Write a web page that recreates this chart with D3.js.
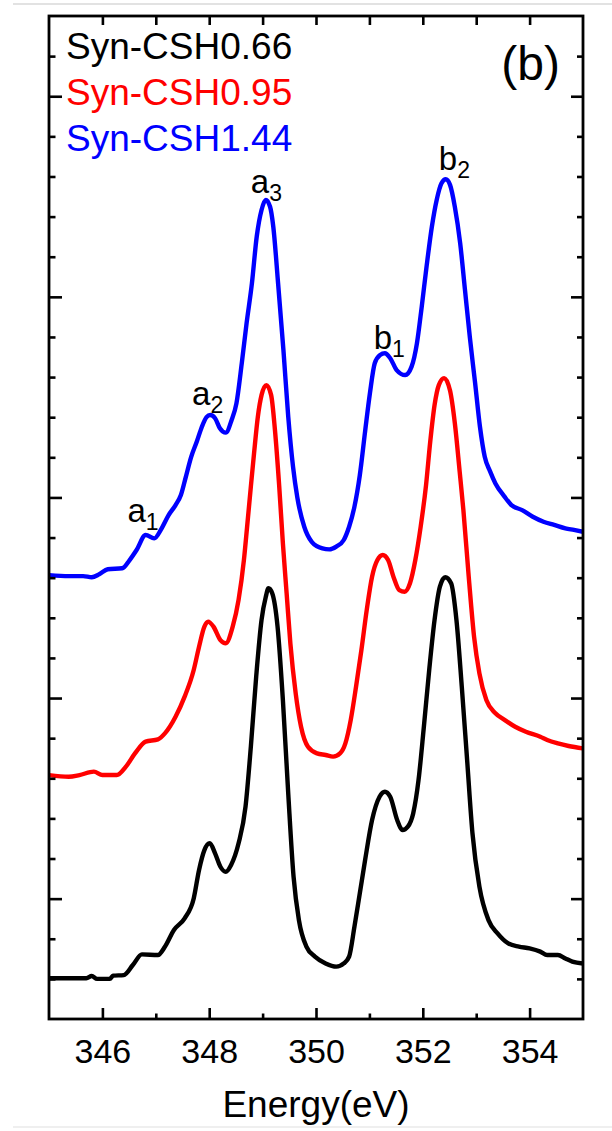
<!DOCTYPE html>
<html>
<head>
<meta charset="utf-8">
<script src="https://cdn.jsdelivr.net/npm/d3@7"></script>
<style>
  html, body { margin: 0; padding: 0; background: #fff; }
  svg { display: block; }
  text { font-family: "Liberation Sans", Arial, sans-serif; }
</style>
</head>
<body>
<svg id="chart" width="612" height="1131"></svg>
<script>
// Spectra: [energy (eV), normalised intensity]
const csh066 = [[345.00,0.03],[345.37,0.03],[345.70,0.03],[345.80,0.14],[345.90,0.0],[346.14,0.0],[346.20,0.16],[346.40,0.19],[346.57,0.69],[346.74,1.22],[347.04,1.19],[347.17,1.60],[347.34,2.44],[347.54,3.02],[347.71,4.01],[347.81,5.43],[347.91,6.42],[348.01,6.76],[348.11,6.26],[348.21,5.59],[348.31,5.34],[348.41,5.68],[348.55,6.76],[348.68,8.58],[348.78,11.58],[348.88,15.07],[348.98,17.89],[349.06,19.05],[349.11,19.47],[349.18,19.22],[349.28,17.56],[349.38,13.90],[349.48,9.25],[349.58,5.09],[349.68,2.93],[349.82,1.61],[349.98,1.11],[350.18,0.77],[350.38,0.61],[350.52,0.77],[350.62,1.11],[350.72,2.60],[350.82,4.26],[350.92,5.93],[351.05,7.92],[351.19,9.08],[351.29,9.33],[351.39,9.08],[351.52,7.92],[351.62,7.42],[351.72,7.59],[351.82,8.25],[351.92,9.91],[352.02,12.57],[352.12,15.40],[352.22,17.89],[352.32,19.55],[352.42,20.02],[352.53,19.72],[352.63,17.89],[352.73,14.57],[352.83,10.91],[352.93,7.26],[353.06,4.60],[353.23,2.93],[353.40,2.27],[353.60,1.77],[353.80,1.61],[354.00,1.52],[354.20,1.36],[354.33,1.19],[354.53,1.19],[354.67,1.02],[354.80,0.86],[355.00,0.77]];

const csh095 = [[345.00,0.16],[345.37,0.08],[345.57,0.16],[345.84,0.33],[346.00,0.16],[346.27,0.16],[346.44,0.58],[346.61,1.24],[346.81,1.83],[347.04,1.94],[347.17,2.24],[347.37,3.07],[347.54,4.07],[347.71,5.40],[347.81,6.56],[347.91,7.56],[347.98,7.81],[348.08,7.56],[348.21,6.89],[348.31,6.73],[348.44,7.56],[348.55,8.89],[348.65,10.88],[348.71,12.54],[348.78,14.54],[348.84,16.2],[348.91,18.0],[348.98,19.1],[349.07,19.6],[349.16,19.1],[349.23,17.4],[349.31,14.6],[349.38,11.71],[349.45,9.22],[349.52,6.72],[349.62,4.23],[349.72,2.57],[349.85,1.57],[350.02,1.24],[350.18,1.16],[350.32,1.08],[350.45,1.24],[350.55,1.74],[350.65,2.90],[350.75,4.57],[350.85,6.39],[350.95,8.39],[351.05,10.05],[351.15,10.88],[351.25,11.13],[351.35,10.88],[351.45,10.05],[351.56,9.38],[351.66,9.30],[351.76,9.72],[351.86,10.88],[351.96,12.54],[352.06,14.6],[352.14,16.8],[352.22,18.6],[352.30,19.6],[352.40,19.95],[352.51,19.33],[352.60,17.7],[352.69,15.3],[352.76,13.37],[352.86,10.05],[352.96,7.06],[353.06,5.23],[353.19,3.90],[353.36,3.24],[353.53,2.91],[353.73,2.57],[353.93,2.32],[354.20,2.07],[354.33,1.91],[354.53,1.74],[354.73,1.61],[355.00,1.49]];

const csh144 = [[345.00,0.13],[345.37,0.08],[345.64,0.08],[345.80,0.02],[345.94,0.17],[346.10,0.42],[346.37,0.47],[346.51,0.88],[346.64,1.38],[346.81,2.13],[346.97,1.96],[347.11,2.46],[347.24,3.12],[347.37,3.62],[347.47,4.12],[347.56,5.0],[347.66,6.0],[347.77,6.8],[347.86,7.5],[347.95,8.0],[348.02,8.11],[348.11,7.95],[348.20,7.45],[348.31,7.23],[348.42,7.86],[348.51,8.69],[348.61,10.69],[348.70,12.68],[348.80,14.68],[348.89,17.0],[348.98,18.33],[349.06,18.83],[349.14,18.49],[349.20,17.5],[349.29,14.68],[349.39,11.35],[349.48,8.03],[349.57,5.53],[349.65,4.00],[349.78,2.54],[349.92,1.79],[350.12,1.46],[350.25,1.41],[350.38,1.55],[350.52,1.88],[350.62,2.54],[350.72,3.54],[350.82,5.1],[350.92,7.3],[351.01,9.2],[351.10,10.69],[351.20,11.1],[351.29,11.19],[351.39,10.94],[351.51,10.35],[351.67,10.1],[351.79,10.52],[351.89,11.68],[351.98,13.51],[352.07,15.5],[352.17,17.5],[352.26,18.83],[352.35,19.66],[352.43,19.86],[352.51,19.58],[352.60,18.49],[352.70,16.67],[352.79,14.34],[352.88,12.01],[352.98,9.69],[353.07,7.53],[353.16,6.03],[353.26,5.3],[353.36,4.7],[353.53,4.04],[353.66,3.62],[353.86,3.37],[354.06,3.04],[354.26,2.79],[354.46,2.63],[354.67,2.46],[354.83,2.38],[355.00,2.29]];

const seriesNames = ["Syn-CSH0.66", "Syn-CSH0.95", "Syn-CSH1.44"];
const seriesColors = ["#000000", "#ff0000", "#0000ff"];
const seriesOffsets = [-4, 6, 16];   // vertical stacking of the spectra

// Peak labels: [letter, subscript, energy, stacked intensity at the baseline of the text]
const peakLabels = [
  ["a", "1", 346.47, 18.8],
  ["a", "2", 347.68, 24.6],
  ["a", "3", 348.78, 35.2],
  ["b", "1", 351.08, 27.4],
  ["b", "2", 352.30, 36.3]
];

const xMajorTicks = [346, 348, 350, 352, 354];
const xMinorTicks = [347, 349, 351, 353];
const xTopTicks = [346, 347, 348, 349, 350, 351, 352, 353, 354];
const yMajorTicks = [0, 10, 20, 30, 40];
const yMinorTicks = [-4, -2, 2, 4, 6, 8, 12, 14, 16, 18, 22, 24, 26, 28, 32, 34, 36, 38, 42];

const svg = d3.select("#chart");
const L = 49, R = 583, T = 16, B = 1019;

const x = d3.scaleLinear().domain([345, 355]).range([L, R]);
const y = d3.scaleLinear().domain([-6, 44]).range([B, T]);

// faint page rules
svg.append("line").attr("x1", 13).attr("x2", 612).attr("y1", 4).attr("y2", 4)
  .attr("stroke", "#e2e2e2").attr("stroke-width", 2);
svg.append("line").attr("x1", 13).attr("x2", 612).attr("y1", 1127).attr("y2", 1127)
  .attr("stroke", "#efefef").attr("stroke-width", 2);

svg.append("clipPath").attr("id", "plot-clip")
  .append("rect").attr("x", L).attr("y", T).attr("width", R - L).attr("height", B - T);

const line = d3.line()
  .x(d => x(d[0]))
  .y(d => y(d[1]))
  .curve(d3.curveMonotoneX);

const curves = svg.append("g").attr("clip-path", "url(#plot-clip)");
[csh066, csh095, csh144].forEach((s, i) => {
  curves.append("path")
    .datum(s.map(d => [d[0], d[1] + seriesOffsets[i]]))
    .attr("d", line)
    .attr("fill", "none")
    .attr("stroke", seriesColors[i])
    .attr("stroke-width", 4.4)
    .attr("stroke-linejoin", "round")
    .attr("stroke-linecap", "round");
});

function styleAxis(g) {
  g.select(".domain").remove();
  g.selectAll(".tick line").attr("stroke", "#000").attr("stroke-width", 2.6);
}

// bottom axis, ticks pointing inward
svg.append("g").attr("transform", `translate(0,${B})`)
  .call(d3.axisBottom(x).tickValues(xMajorTicks).tickSize(-11).tickPadding(20).tickFormat(d3.format("d")))
  .call(styleAxis)
  .call(g => g.selectAll(".tick text")
    .attr("fill", "#000").attr("font-size", 34)
    .attr("font-family", "'Liberation Sans', Arial, sans-serif"));
svg.append("g").attr("transform", `translate(0,${B})`)
  .call(d3.axisBottom(x).tickValues(xMinorTicks).tickSize(-5.5).tickFormat(""))
  .call(styleAxis);

// top axis
svg.append("g").attr("transform", `translate(0,${T})`)
  .call(d3.axisTop(x).tickValues(xTopTicks).tickSize(-9).tickFormat(""))
  .call(styleAxis);

// left and right axes
svg.append("g").attr("transform", `translate(${L},0)`)
  .call(d3.axisLeft(y).tickValues(yMajorTicks).tickSize(-13).tickFormat(""))
  .call(styleAxis);
svg.append("g").attr("transform", `translate(${L},0)`)
  .call(d3.axisLeft(y).tickValues(yMinorTicks).tickSize(-6.5).tickFormat(""))
  .call(styleAxis);
svg.append("g").attr("transform", `translate(${R},0)`)
  .call(d3.axisRight(y).tickValues(yMajorTicks).tickSize(-12).tickFormat(""))
  .call(styleAxis);
svg.append("g").attr("transform", `translate(${R},0)`)
  .call(d3.axisRight(y).tickValues(yMinorTicks).tickSize(-6).tickFormat(""))
  .call(styleAxis);

// frame
svg.append("rect")
  .attr("x", L).attr("y", T).attr("width", R - L).attr("height", B - T)
  .attr("fill", "none").attr("stroke", "#000").attr("stroke-width", 2.8);

// axis title
svg.append("text")
  .attr("x", (L + R) / 2).attr("y", 1117)
  .attr("text-anchor", "middle").attr("font-size", 37).attr("fill", "#000")
  .text("Energy(eV)");

// legend
seriesNames.forEach((name, i) => {
  svg.append("text")
    .attr("x", 66).attr("y", 59 + i * 46)
    .attr("font-size", 37).attr("fill", seriesColors[i])
    .text(name);
});

// panel tag
svg.append("text")
  .attr("x", 560).attr("y", 80)
  .attr("text-anchor", "end").attr("font-size", 48).attr("fill", "#000")
  .text("(b)");

// peak labels
peakLabels.forEach(([ch, sub, e, v]) => {
  const t = svg.append("text")
    .attr("x", x(e)).attr("y", y(v))
    .attr("font-size", 33).attr("fill", "#000");
  t.append("tspan").text(ch);
  t.append("tspan").attr("dy", 8).attr("font-size", 23).text(sub);
});
</script>
</body>
</html>
